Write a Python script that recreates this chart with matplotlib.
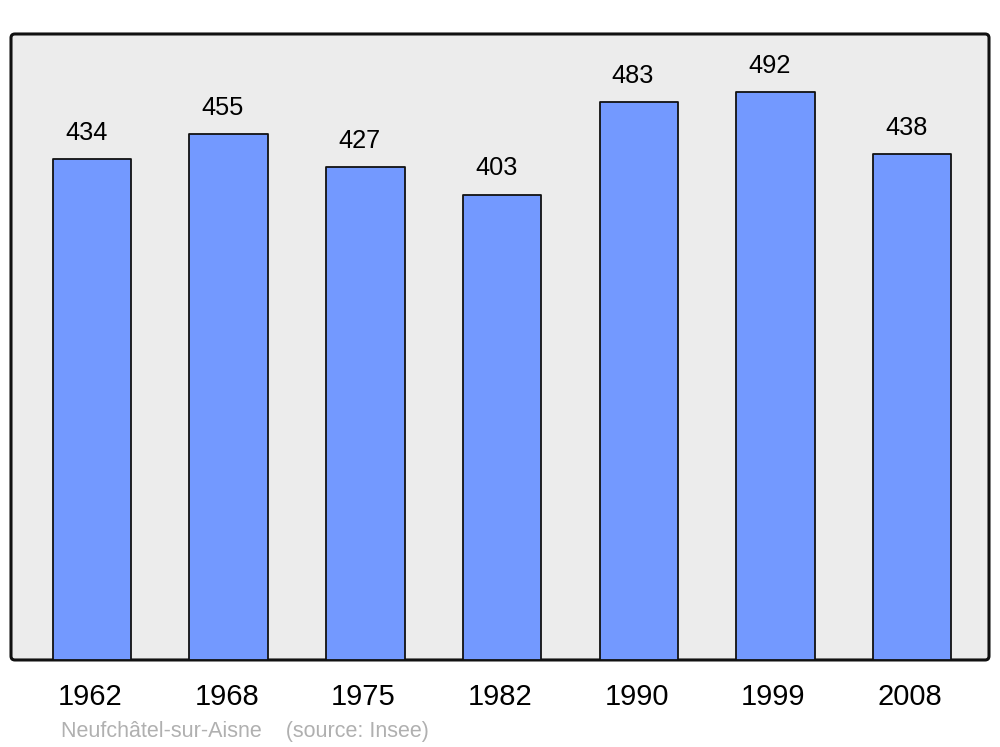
import matplotlib
matplotlib.use("Agg")
import matplotlib.pyplot as plt
from matplotlib.patches import FancyBboxPatch

plt.rcParams['font.family'] = ['Liberation Sans', 'DejaVu Sans']

years = ['1962', '1968', '1975', '1982', '1990', '1999', '2008']
population = [434, 455, 427, 403, 483, 492, 438]
footer = 'Neufchâtel-sur-Aisne    (source: Insee)'

fig = plt.figure(figsize=(10, 7.47), dpi=100)
ax = fig.add_axes([0.011, 0.1165, 0.978, 0.838])
ax.set_facecolor('none')

# rounded frame with grey background
frame = FancyBboxPatch((0, 0), 1, 1, boxstyle='round,pad=0,rounding_size=0.004',
                       mutation_aspect=978 / 626, transform=ax.transAxes,
                       facecolor='#ececec', edgecolor='#111111', linewidth=2.2,
                       zorder=0, clip_on=False)
ax.add_patch(frame)

x = list(range(len(years)))
bars = ax.bar(x, population, width=0.575, color='#7399ff', edgecolor='#111111',
              linewidth=1.3, zorder=2)
for b in bars:
    b.set_joinstyle('round')

for xi, v in zip(x, population):
    ax.annotate(str(v), (xi, v), xytext=(-4.3, 13.7), textcoords='offset points',
                ha='center', va='baseline', fontsize=18.3, color='black')

for xi, y in zip(x, years):
    ax.annotate(y, (xi, 0), xycoords=('data', 'axes fraction'), xytext=(-1.5, -32.4),
                textcoords='offset points', ha='center', va='baseline',
                fontsize=21, color='black')

ax.set_xlim(-0.593, 6.562)
ax.set_ylim(0, 542)
ax.set_xticks([])
ax.set_yticks([])
for s in ax.spines.values():
    s.set_visible(False)

fig.text(0.061, 0.0134, footer, ha='left', va='baseline', fontsize=15.5, color='#b0b0b0')

fig.savefig('out.png', dpi=100)
